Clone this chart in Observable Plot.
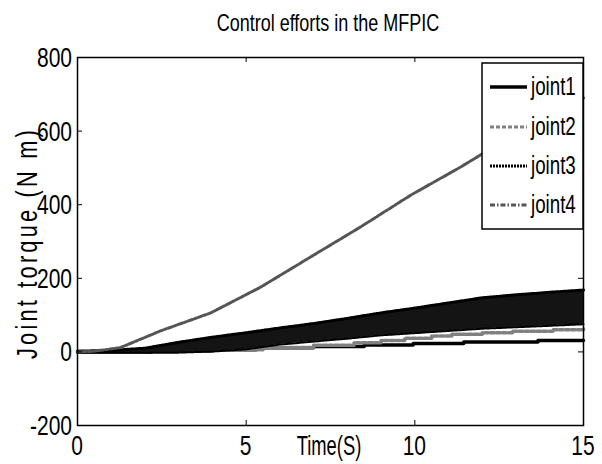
<!DOCTYPE html>
<html><head><meta charset="utf-8">
<script src="https://cdn.jsdelivr.net/npm/d3@7"></script>
<script src="https://cdn.jsdelivr.net/npm/@observablehq/plot@0.6"></script>
<style>body{margin:0;background:#fff}#chart{width:602px;height:464px}</style>
</head><body><div id="chart"></div>
<script>
const FONT = "'Liberation Sans','Arial',sans-serif";
const NARROW = 0.75; // horizontal squeeze to mimic the condensed face of the original
const titleText = "Control efforts in the MFPIC";
const xLabelText = "Time(S)";
const yLabelText = "Joint torque (N m)";
const seriesNames = ["joint1", "joint2", "joint3", "joint4"];
const xTicks = [0, 5, 10, 15];
const yTicks = [-200, 0, 200, 400, 600, 800];

// joint1: solid black staircase
const joint1T = [0, 2.2, 3.8, 5.3, 7.0, 8.5, 9.95, 11.45, 13.65, 15];
const joint1V = [0, 3, 6, 11, 15, 19, 23, 27, 31, 31];
// joint2: gray dashed staircase
const joint2T = [0, 2, 4, 5.5, 7.0, 8.2, 9.0, 9.7, 10.5, 11.1, 12.0, 12.9, 14.1, 15];
const joint2V = [0, 2, 6, 12, 18, 25, 31, 37, 43, 48, 52, 56, 60, 62];
// joint3: dense oscillation, drawn as its envelope band
const joint3T = [0, 1, 2, 2.5, 3, 4, 5, 6, 7, 8, 9, 10, 11, 12, 13, 14, 15];
const joint3Lo = [-2, -2, -2, -2, -2, 1, 7, 20, 28, 36, 45, 51, 57, 63, 67, 71, 75];
const joint3Hi = [2, 4, 10, 18, 26, 40, 52, 65, 77, 91, 106, 119, 133, 147, 155, 162, 168];
// joint4: gray dash-dot
const joint4T = [0, 0.5, 1.28, 2.46, 3.95, 5.43, 6.91, 8.4, 9.88, 11.37, 11.98, 13, 14, 15];
const joint4V = [0, 2, 12, 57, 106, 176, 258, 340, 426, 503, 537, 590, 640, 690];

const W = 602, H = 464, mL = 77, mR = 19, mT = 57, mB = 39;
const innerW = W - mL - mR, innerH = H - mT - mB;

const j1 = joint1T.map((t, i) => ({t, v: joint1V[i]}));
const j2 = joint2T.map((t, i) => ({t, v: joint2V[i]}));
const j3 = joint3T.map((t, i) => ({t, lo: joint3Lo[i], hi: joint3Hi[i]}));
const j4 = joint4T.map((t, i) => ({t, v: joint4V[i]}));

const plot = Plot.plot({
  width: W, height: H,
  marginLeft: mL, marginRight: mR, marginTop: mT, marginBottom: mB,
  x: {domain: [0, 15], axis: null},
  y: {domain: [-200, 800], axis: null},
  style: {fontFamily: FONT, background: "#fff", color: "#000", overflow: "visible"},
  marks: [
    Plot.line(j1, {x: "t", y: "v", curve: "step-after", stroke: "#000", strokeWidth: 3.5}),
    Plot.line(j2, {x: "t", y: "v", curve: "step-after", stroke: "#808080", strokeWidth: 3.5, strokeDasharray: "4,2"}),
    Plot.areaY(j3, {x: "t", y1: "lo", y2: "hi", fill: "#141414", curve: "linear"}),
    Plot.line(j3, {x: "t", y: "hi", stroke: "#000", strokeWidth: 3, strokeDasharray: "2,1"}),
    Plot.line(j3, {x: "t", y: "lo", stroke: "#000", strokeWidth: 2, strokeDasharray: "2,1"}),
    Plot.line(j4, {x: "t", y: "v", stroke: "#555", strokeWidth: 3, strokeDasharray: "5,2,1.5,2"}),
    Plot.tickX(xTicks, {x: d => d, insetTop: innerH - 5, stroke: "#000"}),
    Plot.tickX(xTicks, {x: d => d, insetBottom: innerH - 5, stroke: "#000"}),
    Plot.tickY(yTicks, {y: d => d, insetRight: innerW - 5, stroke: "#000"}),
    Plot.tickY(yTicks, {y: d => d, insetLeft: innerW - 5, stroke: "#000"}),
    Plot.frame({stroke: "#000", strokeWidth: 1.5})
  ]
});
document.getElementById("chart").appendChild(plot);

const svg = d3.select(plot);
const xs = plot.scale("x"), ys = plot.scale("y");

function addText(parent, x, y, txt, size, anchor, rot, spacing, baseline, squeeze) {
  const sq = squeeze || NARROW;
  const t = parent.append("text")
    .attr("transform", `translate(${x},${y})` + (rot ? ` rotate(${rot})` : "") + ` scale(${sq},1)`)
    .attr("text-anchor", anchor).attr("font-family", FONT).attr("font-size", size).attr("fill", "#000")
    .text(txt);
  if (spacing) t.attr("letter-spacing", spacing);
  if (baseline) t.attr("dy", baseline);
  return t;
}
// tick labels positioned through Plot's scales
const axisG = svg.append("g");
xTicks.forEach(v => addText(axisG, xs.apply(v), H - mB + 30, String(v), 28, "middle"));
yTicks.forEach(v => addText(axisG, mL - 5, ys.apply(v), String(v), 28, "end", 0, 0, "0.36em"));

addText(svg, 328, 31, titleText, 24, "middle");
addText(svg, 329, 455, xLabelText, 27, "middle", 0, 0, null, 0.68);
addText(svg, 37, 243, yLabelText, 29, "middle", -90, 4.3);

// legend
const lg = svg.append("g");
lg.append("rect").attr("x", 482).attr("y", 63).attr("width", 101).attr("height", 166)
  .attr("fill", "#fff").attr("stroke", "#000").attr("stroke-width", 1.5);
const legendStyles = [
  {stroke: "#000", w: 3.5, dash: null},
  {stroke: "#808080", w: 3, dash: "4,2"},
  {stroke: "#000", w: 3, dash: "2,1"},
  {stroke: "#555", w: 3, dash: "5,2,1.5,2"}
];
const legendY = [87, 127, 166, 205];
seriesNames.forEach((name, i) => {
  const s = legendStyles[i];
  lg.append("line").attr("x1", 490).attr("x2", 527).attr("y1", legendY[i]).attr("y2", legendY[i])
    .attr("stroke", s.stroke).attr("stroke-width", s.w).attr("stroke-dasharray", s.dash);
  addText(lg, 531, legendY[i] + 8, name, 25, "start");
});
</script></body></html>
